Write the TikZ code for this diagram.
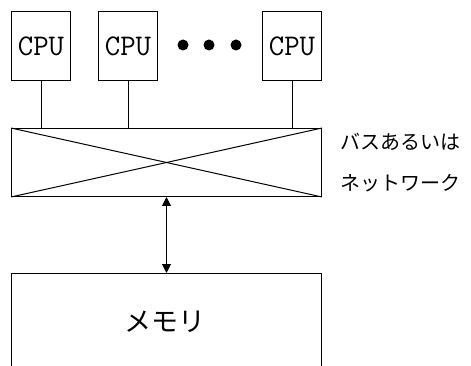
\documentclass[tikz,border=0pt]{standalone}
\usepackage{fontspec}
\newfontfamily\jpfont{Noto Sans CJK JP}
\usetikzlibrary{arrows.meta}
\begin{document}
\begin{tikzpicture}[x=1pt,y=-1pt,line width=1pt,
  box/.style={draw,rectangle,inner sep=0pt,anchor=north west},
  cpubox/.style={box,minimum width=59pt,minimum height=69pt,
    font=\ttfamily\fontsize{30}{30}\selectfont},
  dotmark/.style={circle,fill,inner sep=0pt,minimum size=11pt},
  label/.style={anchor=west,inner sep=0pt,font=\jpfont\fontsize{20}{20}\selectfont},
  link/.style={{Triangle[width=9pt,length=9pt]}-{Triangle[width=9pt,length=9pt]}}]
\useasboundingbox (0,0) rectangle (471,366);
\clip (0,0) rectangle (471,366);
% processors
\node[cpubox] (cpu1) at (11,11) {CPU};
\node[cpubox] (cpu2) at (98,11) {CPU};
\node[cpubox] (cpu3) at (262,11) {CPU};
\node[dotmark] (d1) at (183,45) {};
\node[dotmark] (d2) at (209,45) {};
\node[dotmark] (d3) at (236,45) {};
% interconnect
\node[box,minimum width=310pt,minimum height=68pt] (bus) at (11,128) {};
\draw (bus.north west) -- (bus.south east);
\draw (bus.south west) -- (bus.north east);
\foreach \c in {cpu1,cpu2,cpu3}
  \draw (\c.south) -- (\c.south |- bus.north);
\node[label] (l1) at (340,142) {バスあるいは};
\node[label] (l2) at (340,183) {ネットワーク};
% memory
\node[box,minimum width=310pt,minimum height=130pt] (mem) at (11,273) {};
\node[font=\jpfont\fontsize{27}{27}\selectfont] (memtext) at (165,322) {メモリ};
\draw[link] (bus.south) -- (mem.north);
\end{tikzpicture}
\end{document}
